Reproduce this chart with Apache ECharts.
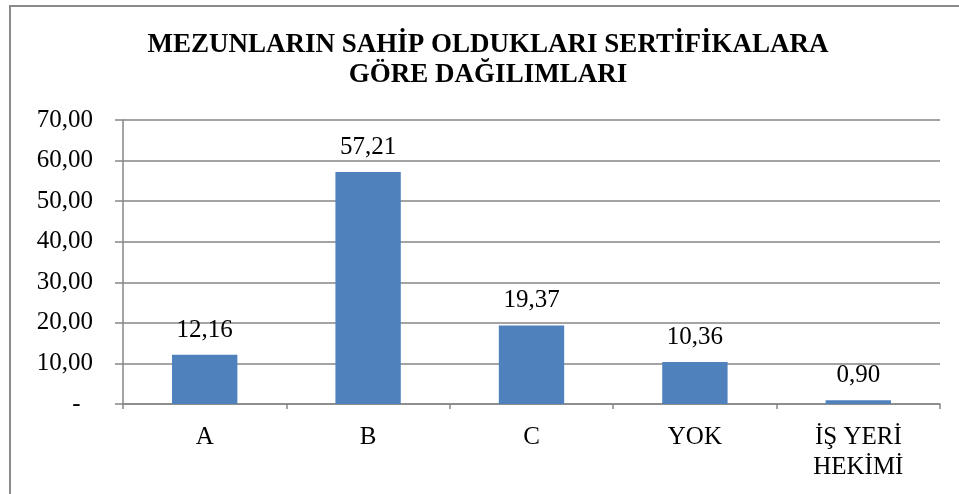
<!DOCTYPE html>
<html>
<head>
<meta charset="utf-8">
<script src="https://cdn.jsdelivr.net/npm/echarts@6/dist/echarts.min.js"></script>
<style>
html,body{margin:0;padding:0;background:#fff;}
#chart{width:959px;height:494px;}
</style>
</head>
<body>
<div id="chart"></div>
<script>
const titleText = 'MEZUNLARIN SAHİP OLDUKLARI SERTİFİKALARA\nGÖRE DAĞILIMLARI';
const categories = ['A', 'B', 'C', 'YOK', 'İŞ YERİ\nHEKİMİ'];
const values = [12.16, 57.21, 19.37, 10.36, 0.90];
const yMin = 0, yMax = 70, yStep = 10;

function fmt(v) {
  if (v === 0) return '-';
  return v.toFixed(2).replace('.', ',');
}

const FONT = '"Liberation Serif", "Times New Roman", serif';
const chart = echarts.init(document.getElementById('chart'), null, {renderer: 'canvas'});
chart.setOption({
  backgroundColor: '#ffffff',
  animation: false,
  title: {
    text: titleText,
    left: 483,
    top: 25,
    textAlign: 'center',
    textStyle: {
      fontFamily: FONT,
      fontWeight: 'bold',
      fontSize: 27,
      lineHeight: 30,
      color: '#000'
    }
  },
  graphic: [{
    type: 'rect',
    shape: {x: 10, y: 6, width: 1000, height: 600},
    style: {fill: null, stroke: '#8a8a8a', lineWidth: 2},
    silent: true,
    z: 0
  }],
  grid: {left: 123, right: 19, top: 120, bottom: 90, containLabel: false},
  xAxis: {
    type: 'category',
    data: categories,
    axisLine: {show: true, lineStyle: {color: '#868686', width: 1.5}},
    axisTick: {show: true, alignWithLabel: false, length: 5, lineStyle: {color: '#868686', width: 1.5}},
    axisLabel: {
      fontFamily: FONT, fontSize: 25, color: '#000', margin: 18, lineHeight: 30, interval: 0
    }
  },
  yAxis: {
    type: 'value',
    min: yMin, max: yMax, interval: yStep,
    axisLine: {show: true, lineStyle: {color: '#868686', width: 1.5}},
    axisTick: {show: true, length: 8, lineStyle: {color: '#868686', width: 1.5}},
    splitLine: {show: true, lineStyle: {color: '#868686', width: 1.5}},
    axisLabel: {
      fontFamily: FONT, fontSize: 25, color: '#000', margin: 30,
      formatter: v => (v === 0 ? '-  ' : fmt(v))
    }
  },
  series: [{
    type: 'bar',
    data: values,
    barWidth: '40%',
    itemStyle: {color: '#4f81bd'},
    label: {
      show: true,
      position: 'top',
      distance: 12,
      fontFamily: FONT,
      fontSize: 25,
      color: '#000',
      formatter: p => fmt(p.value)
    }
  }]
});
</script>
</body>
</html>
